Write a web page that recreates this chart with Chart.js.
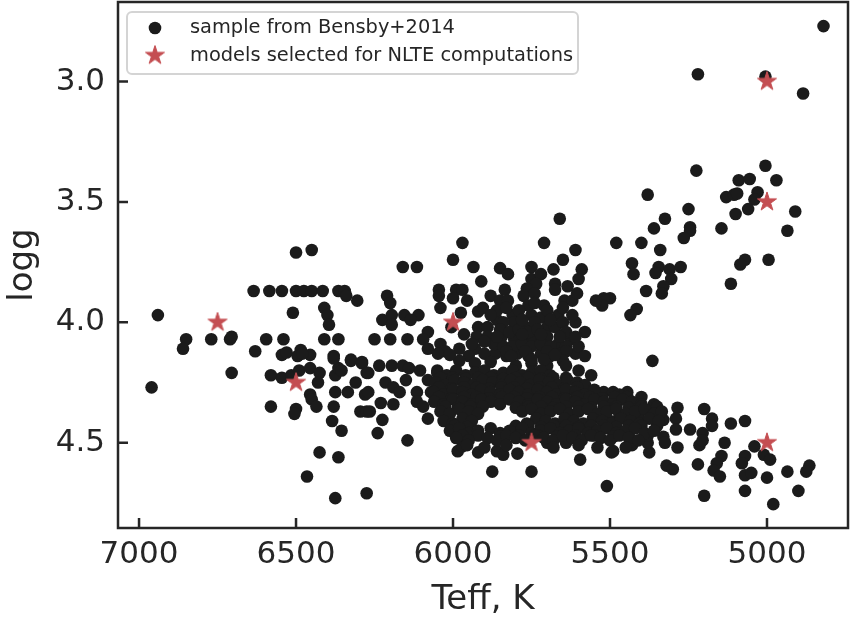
<!DOCTYPE html>
<html>
<head>
<meta charset="utf-8">
<script src="https://cdn.jsdelivr.net/npm/chart.js@4.4.0/dist/chart.umd.min.js"></script>
<style>
  html, body { margin: 0; padding: 0; background: #fff; }
</style>
</head>
<body>
<canvas id="hrChart" width="850" height="618"></canvas>
<script>
// [Teff, logg] pairs
const giants = [
  [4820,2.77],[5220,2.97],[5005,2.98],[4885,3.05],[5225,3.37],[5005,3.35],[5090,3.41],[5055,3.405],
  [4970,3.41],[5380,3.47],[5130,3.48],[5105,3.47],[5095,3.465],[5030,3.46],[5040,3.49],[4910,3.54],
  [5250,3.53],[5060,3.53],[5100,3.55],[5325,3.57],[5360,3.61],[5145,3.61],[4935,3.62],[5245,3.605],
  [5245,3.62],[5265,3.65],[5480,3.67],[5400,3.67],[5340,3.70],[5070,3.74],[5085,3.76],[4995,3.74],
  [5430,3.755],[5425,3.80],[5345,3.77],[5355,3.795],[5310,3.78],[5275,3.77],[5305,3.82],[5330,3.85],
  [5335,3.88],[5385,3.87],[5115,3.84],[5500,3.90],[5520,3.90],[5525,3.93],[5545,3.91],[5415,3.945],
  [5435,3.97],[5365,4.16]
];

const subgiants = [
  [6500,3.71],[6450,3.70],
  [6635,3.87],[6585,3.87],[6545,3.87],[6500,3.87],[6475,3.87],[6450,3.87],[6415,3.87],[6365,3.87],
  [6345,3.87],[6340,3.89],[6305,3.91],
  [6940,3.97],[6510,3.96],[6410,3.94],[6400,3.97],[6395,4.01],
  [6850,4.07],[6860,4.11],[6770,4.07],[6710,4.07],[6705,4.06],[6595,4.07],[6540,4.07],[6630,4.12],
  [6545,4.135],[6530,4.125],[6485,4.115],[6495,4.14],[6455,4.135],[6410,4.07],[6365,4.07],[6380,4.14],
  [6325,4.155],[6290,4.165],
  [5660,3.57],[5970,3.67],[5710,3.67],[5610,3.70],[6000,3.74],[5650,3.74],[6160,3.77],[6115,3.77],
  [5935,3.77],[5850,3.775],[5825,3.80],[5750,3.77],[5680,3.78],[5590,3.78],[5600,3.82],[5910,3.83],
  [5750,3.82],[5720,3.80],[5735,3.84],[5675,3.84],[5635,3.85],[5765,3.86],[6045,3.865],[6045,3.89],
  [5990,3.865],[5970,3.865],[5835,3.865],[6210,3.89],[6200,3.92],[6000,3.90],[5955,3.91],[5880,3.89],
  [5850,3.91],[5825,3.91],[5775,3.89],[5740,3.88],[5710,3.93],[5675,3.865],[5645,3.91],[5620,3.91],
  [5605,3.88],[6040,3.94],[6155,3.97],[6110,3.97],[6135,3.99],[6225,3.99],[6195,3.97],[6195,4.01],
  [6005,4.02],[5975,3.96],[5920,3.955],[5905,3.94],[5860,3.99],[5920,4.02],[5890,4.02],[5810,3.97],
  [5805,4.00],[5770,4.02],[5750,3.97],[5720,3.98],[5700,4.02],[5665,3.97],[5675,4.02],[5610,4.00],
  [5580,4.04],[5625,4.07],[6250,4.07],[6200,4.07],[6145,4.07],[6080,4.04],[6095,4.07],[6080,4.11],
  [6040,4.09],[6025,4.12],[5965,4.05],[5980,4.11],[5930,4.11],[5925,4.06],[5890,4.06],[5845,4.06],
  [5865,4.13],[5805,4.07],[5770,4.06],[5740,4.07],[5700,4.06],[5665,4.09],[5795,4.13],[5720,4.13],
  [5655,4.13],[5610,4.13],[5760,3.93],[5740,3.92],
  [5860,3.95],[5830,3.94],[5790,3.95],[5700,3.95],[5650,3.94],[5840,4.00],[5740,4.00],[5650,4.00],
  [5850,4.03],[5820,4.04],[5790,4.03],[5760,4.04],[5730,4.03],[5640,4.04],[5870,4.09],[5840,4.10],
  [5810,4.10],[5780,4.09],[5750,4.10],[5720,4.09],[5690,4.10],[5640,4.10],[5600,4.10],[5900,4.13],
  [5830,4.14],[5760,4.14],[5690,4.14],[5580,4.14],[5950,4.14],[5900,4.08],[5940,4.09],
  [5880,3.97],[5780,3.99],[5690,3.99],[5620,3.97],[5860,4.06],[5780,4.05],[5720,4.05],[5660,4.06],
  [5610,4.06],[5830,4.12],[5770,4.12],[5700,4.12],[5640,4.12],[5750,4.17],[5800,4.18],[5700,4.18],
  [5650,4.16],[5930,4.17],[5980,4.16]
];

const warmDwarfs = [
  [6960,4.27],[6705,4.21],[6580,4.22],[6545,4.23],[6515,4.22],[6490,4.20],[6455,4.19],[6425,4.21],
  [6430,4.25],[6455,4.30],[6450,4.32],[6435,4.35],[6580,4.35],[6500,4.36],[6505,4.38],[6375,4.29],
  [6380,4.35],[6385,4.41],[6355,4.45],[6335,4.29],[6310,4.25],[6280,4.30],[6295,4.37],[6275,4.37],
  [6375,4.22],[6365,4.19],[6355,4.20],[6380,4.15],[6325,4.16],[6290,4.17],[6275,4.21],[6480,4.13],
  [6425,4.54],[6365,4.56],[6465,4.64],[6375,4.73],[6275,4.71],
  [6270,4.21],[6235,4.18],[6195,4.18],[6160,4.18],[6140,4.19],[6105,4.20],[6150,4.24],[6215,4.25],
  [6190,4.27],[6170,4.29],[6270,4.29],[6265,4.37],[6230,4.335],[6190,4.34],[6225,4.405],[6240,4.46],
  [6145,4.49],[6080,4.40],[6115,4.29],[6115,4.33],[6095,4.35],[6080,4.24],[6050,4.20],[6070,4.29],
  [6020,4.405],[5990,4.47],[5985,4.535],[5970,4.515],[5920,4.54],[5875,4.62],[5860,4.535],[5840,4.55],
  [5795,4.545],[5750,4.62],[5700,4.50],[5640,4.50],[5595,4.57],[5520,4.29],[5490,4.535],
  [6048,4.13],[6010,4.135],[5880,4.165],[5815,4.14],[5750,4.155],[5710,4.155],[5675,4.135],
  [5600,4.20],[5560,4.22],[5640,4.18]
];

const coolDwarfs = [
  [5445,4.29],[5360,4.34],[5285,4.355],[5200,4.36],[5175,4.40],[5115,4.42],[5070,4.41],[5135,4.50],
  [5040,4.515],[5070,4.555],[5080,4.585],[5010,4.55],[4990,4.57],[5145,4.555],[5160,4.585],[5170,4.615],
  [5150,4.64],[5220,4.59],[5320,4.595],[5300,4.61],[5070,4.635],[5050,4.625],[5000,4.645],[4935,4.62],
  [4865,4.595],[4875,4.62],[4900,4.70],[5070,4.70],[4980,4.755],[5200,4.72],[5510,4.68],[5495,4.54],
  [5375,4.54],[5285,4.52],[5215,4.51],[5205,4.46],[5205,4.49],[5245,4.445],[5290,4.40],[5290,4.445],
  [5330,4.405],[5330,4.475],[5325,4.50],[5430,4.51],[5380,4.50],[5175,4.43],
  [5470,4.39],[5410,4.39],[5350,4.43],[5440,4.47],[5380,4.47],[5500,4.41],[5350,4.35],[5470,4.30],
  [5400,4.31]
];

// the crowded part of the main sequence
const dwarfCore = [
  [6050,4.21],[6020,4.22],[5990,4.20],[5960,4.22],[5930,4.21],[5900,4.20],[5870,4.22],[5840,4.21],
  [5810,4.20],[5780,4.22],[5750,4.21],[5720,4.20],[5690,4.22],
  [6040,4.23],[6000,4.23],[5960,4.235],[5920,4.23],[5880,4.23],[5840,4.235],[5800,4.23],[5760,4.23],
  [5720,4.235],[5680,4.23],[5640,4.23],
  [6055,4.25],[6025,4.26],[5995,4.24],[5965,4.25],[5935,4.26],[5905,4.24],[5875,4.25],[5845,4.26],
  [5815,4.24],[5785,4.25],[5755,4.26],[5725,4.24],[5695,4.25],[5665,4.26],[5635,4.24],[5605,4.25],[5580,4.26],
  [6045,4.27],[6005,4.275],[5965,4.27],[5925,4.27],[5885,4.275],[5845,4.27],[5805,4.27],[5765,4.275],
  [5725,4.27],[5685,4.27],[5645,4.275],[5605,4.27],
  [6060,4.29],[6030,4.30],[6000,4.28],[5970,4.29],[5940,4.30],[5910,4.28],[5880,4.29],[5850,4.30],
  [5820,4.28],[5790,4.29],[5760,4.30],[5730,4.28],[5700,4.29],[5670,4.30],[5640,4.28],[5610,4.29],
  [5580,4.30],[5550,4.28],[5490,4.29],
  [6045,4.31],[6005,4.315],[5965,4.31],[5925,4.31],[5885,4.315],[5845,4.31],[5805,4.31],[5765,4.315],
  [5725,4.31],[5685,4.31],[5645,4.315],[5605,4.31],[5565,4.31],[5525,4.315],[5485,4.31],[5445,4.31],
  [6060,4.33],[6030,4.34],[6000,4.32],[5970,4.33],[5940,4.34],[5910,4.32],[5880,4.33],[5850,4.34],
  [5820,4.32],[5790,4.33],[5760,4.34],[5730,4.32],[5700,4.33],[5670,4.34],[5640,4.32],[5610,4.33],
  [5580,4.34],[5550,4.32],[5520,4.33],[5490,4.34],[5460,4.32],[5430,4.33],[5400,4.34],
  [6025,4.35],[5985,4.355],[5945,4.35],[5905,4.35],[5800,4.355],[5760,4.35],[5720,4.35],[5680,4.355],
  [5640,4.35],[5600,4.35],[5560,4.355],[5520,4.35],[5480,4.35],[5440,4.355],[5400,4.35],
  [6040,4.37],[6010,4.38],[5980,4.36],[5950,4.37],[5920,4.38],[5780,4.37],[5750,4.36],[5720,4.38],
  [5690,4.37],[5660,4.36],[5630,4.38],[5600,4.37],[5570,4.36],[5540,4.38],[5510,4.37],[5480,4.36],
  [5450,4.38],[5420,4.37],[5390,4.36],[5360,4.38],[5335,4.37],
  [6030,4.41],[6000,4.42],[5970,4.40],[5940,4.41],[5765,4.42],[5735,4.40],[5705,4.41],[5675,4.42],
  [5645,4.40],[5615,4.41],[5585,4.42],[5555,4.40],[5525,4.41],[5495,4.42],[5465,4.40],[5435,4.41],
  [5405,4.42],[5375,4.40],[5345,4.41],
  [5995,4.43],[5955,4.435],[5800,4.43],[5760,4.43],[5720,4.435],[5680,4.43],[5640,4.43],[5600,4.435],
  [5560,4.43],[5520,4.43],[5480,4.435],[5440,4.43],[5400,4.43],
  [6010,4.45],[5980,4.44],[5950,4.46],[5920,4.45],[5880,4.44],[5850,4.46],[5820,4.45],[5780,4.44],
  [5750,4.46],[5720,4.45],[5690,4.44],[5660,4.46],[5630,4.45],[5600,4.44],[5570,4.46],[5540,4.45],
  [5510,4.44],[5480,4.46],[5450,4.45],[5420,4.44],[5390,4.46],[5360,4.45],
  [5970,4.47],[5920,4.47],[5850,4.475],[5790,4.47],[5730,4.47],[5670,4.475],[5610,4.47],[5550,4.47],
  [5490,4.475],
  [5990,4.48],[5950,4.49],[5890,4.48],[5860,4.49],[5830,4.47],[5800,4.48],[5770,4.49],[5740,4.47],
  [5710,4.48],[5680,4.49],[5650,4.47],[5620,4.48],[5590,4.49],[5560,4.47],[5530,4.48],[5500,4.49],
  [5470,4.47],[5440,4.48],[5410,4.49],
  [5955,4.51],[5900,4.52],[5830,4.51],[5680,4.52],[5600,4.51],[5540,4.52],[5450,4.52]
];

// models picked for the NLTE grid
const modelTeff = [6750, 6500, 6000, 5750, 5000, 5000, 5000];
const modelLogg = [4.0, 4.25, 4.0, 4.5, 4.5, 3.5, 3.0];

const xTicks = [7000, 6500, 6000, 5500, 5000];
const yTicks = [3.0, 3.5, 4.0, 4.5];

const ink = '#262626';
const dotColor = '#1b1b1b';
const starColor = '#C44E52';

const sample = [].concat(giants, subgiants, warmDwarfs, coolDwarfs, dwarfCore)
  .map(p => ({ x: p[0], y: p[1] }));
const models = modelTeff.map((t, i) => ({ x: t, y: modelLogg[i] }));

// filled five-point star like matplotlib's '*'
function makeStar(color, R) {
  const c = document.createElement('canvas');
  const s = Math.ceil(R * 2 + 4);
  c.width = s; c.height = s;
  const g = c.getContext('2d');
  const r = R * 0.382;
  g.beginPath();
  for (let i = 0; i < 10; i++) {
    const a = -Math.PI / 2 + i * Math.PI / 5;
    const rr = i % 2 === 0 ? R : r;
    const px = s / 2 + rr * Math.cos(a), py = s / 2 + rr * Math.sin(a);
    if (i === 0) g.moveTo(px, py); else g.lineTo(px, py);
  }
  g.closePath();
  g.fillStyle = color;
  g.fill();
  g.lineWidth = 1;
  g.strokeStyle = color;
  g.stroke();
  return c;
}
const starImg = makeStar(starColor, 10);

// spines all round, ticks pointing in
const frame = {
  id: 'frame',
  afterDraw(chart) {
    const { ctx, chartArea: a, scales } = chart;
    ctx.save();
    ctx.strokeStyle = ink;
    ctx.lineWidth = 2.5;
    ctx.beginPath();
    xTicks.forEach(v => {
      const px = scales.x.getPixelForValue(v);
      ctx.moveTo(px, a.bottom);
      ctx.lineTo(px, a.bottom - 10);
    });
    yTicks.forEach(v => {
      const py = scales.y.getPixelForValue(v);
      ctx.moveTo(a.left, py);
      ctx.lineTo(a.left + 10, py);
    });
    ctx.stroke();
    ctx.strokeRect(a.left, a.top, a.right - a.left, a.bottom - a.top);
    ctx.restore();
  }
};

// legend box inside the axes, upper left
const boxLegend = {
  id: 'boxLegend',
  afterDraw(chart) {
    const ctx = chart.ctx;
    const x0 = 127, y0 = 12, w = 451, h = 62, rad = 5;
    ctx.save();
    ctx.beginPath();
    ctx.moveTo(x0 + rad, y0);
    ctx.arcTo(x0 + w, y0, x0 + w, y0 + h, rad);
    ctx.arcTo(x0 + w, y0 + h, x0, y0 + h, rad);
    ctx.arcTo(x0, y0 + h, x0, y0, rad);
    ctx.arcTo(x0, y0, x0 + w, y0, rad);
    ctx.closePath();
    ctx.fillStyle = 'rgba(255,255,255,0.8)';
    ctx.fill();
    ctx.lineWidth = 2;
    ctx.strokeStyle = '#d4d4d4';
    ctx.stroke();

    ctx.font = '19.4px "DejaVu Sans"';
    ctx.textBaseline = 'middle';
    ctx.fillStyle = ink;
    chart.data.datasets.forEach((ds, i) => {
      const cy = 28 + i * 27.5;
      if (ds.pointStyle === 'circle') {
        ctx.beginPath();
        ctx.arc(155, cy, 6.3, 0, Math.PI * 2);
        ctx.fillStyle = dotColor;
        ctx.fill();
      } else {
        ctx.drawImage(starImg, 155 - starImg.width / 2, cy - starImg.height / 2);
      }
      ctx.fillStyle = ink;
      ctx.fillText(ds.label, 190, cy);
    });
    ctx.restore();
  }
};

Chart.defaults.font.family = '"DejaVu Sans"';
Chart.defaults.color = ink;

new Chart(document.getElementById('hrChart').getContext('2d'), {
  type: 'scatter',
  data: {
    datasets: [
      {
        label: 'sample from Bensby+2014',
        data: sample,
        pointStyle: 'circle',
        pointRadius: 6.3,
        pointBorderWidth: 0,
        backgroundColor: dotColor,
        borderColor: dotColor,
        order: 1
      },
      {
        label: 'models selected for NLTE computations',
        data: models,
        pointStyle: starImg,
        pointRadius: 10,
        backgroundColor: starColor,
        borderColor: starColor,
        order: 0
      }
    ]
  },
  options: {
    responsive: false,
    animation: false,
    layout: { autoPadding: false, padding: { left: 0, top: 2, right: 2, bottom: 0 } },
    plugins: {
      legend: { display: false },
      tooltip: { enabled: false }
    },
    scales: {
      x: {
        type: 'linear',
        reverse: true,
        min: 4742,
        max: 7067,
        afterFit: s => { s.height = 90; s.paddingLeft = 0; s.paddingRight = 0; },
        afterBuildTicks: s => { s.ticks = xTicks.map(v => ({ value: v })); },
        grid: { display: false, drawTicks: false },
        border: { display: false },
        ticks: {
          padding: 11,
          font: { size: 31, lineHeight: 1 },
          color: ink,
          maxRotation: 0,
          autoSkip: false,
          callback: v => String(v)
        },
        title: {
          display: true,
          text: 'Teff, K',
          color: ink,
          font: { size: 34, lineHeight: 1 },
          padding: { top: 0, bottom: 1 }
        }
      },
      y: {
        type: 'linear',
        reverse: true,
        min: 2.67,
        max: 4.854,
        afterFit: s => { s.width = 118; s.paddingTop = 0; s.paddingBottom = 0; },
        afterBuildTicks: s => { s.ticks = yTicks.map(v => ({ value: v })); },
        grid: { display: false, drawTicks: false },
        border: { display: false },
        ticks: {
          padding: 13,
          font: { size: 31, lineHeight: 1 },
          color: ink,
          autoSkip: false,
          callback: v => v.toFixed(1)
        },
        title: {
          display: true,
          text: 'logg',
          color: ink,
          font: { size: 34, lineHeight: 1 },
          padding: { top: 6, bottom: 0 }
        }
      }
    }
  },
  plugins: [frame, boxLegend]
});
</script>
</body>
</html>
